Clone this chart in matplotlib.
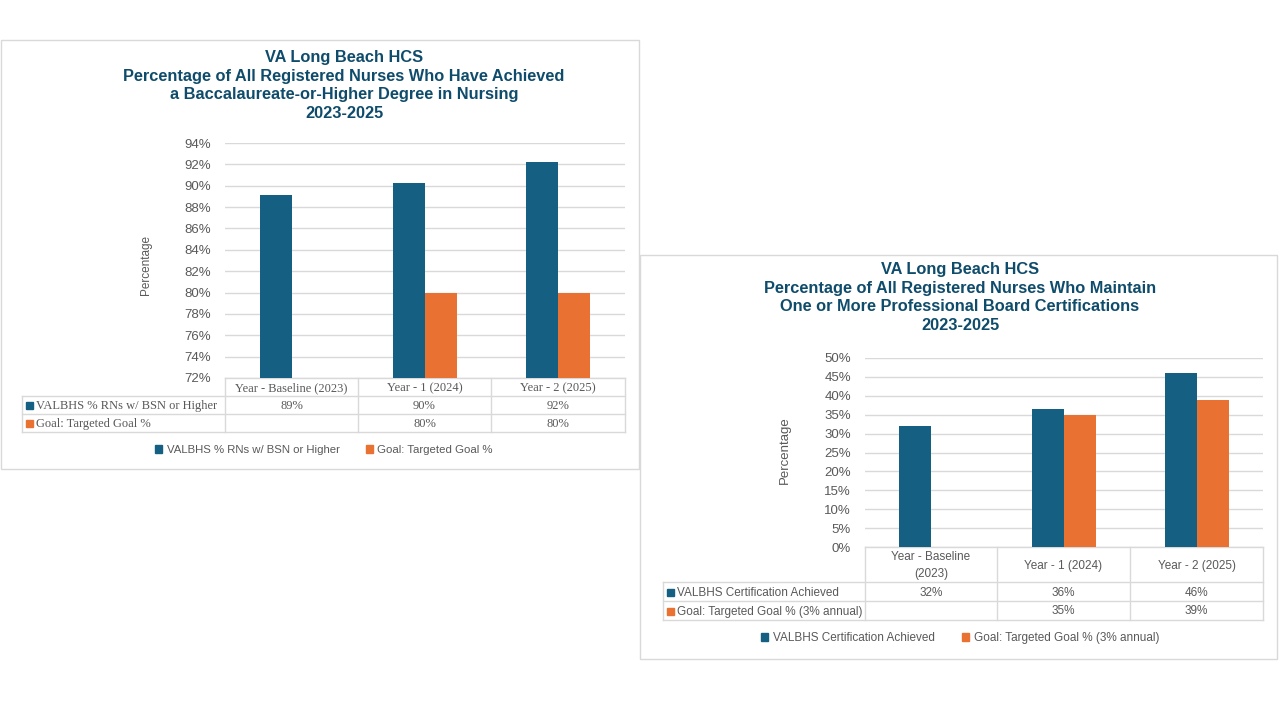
#!/usr/bin/env python3
"""Two VA Long Beach HCS nursing charts (BSN share and board certification)."""
import numpy as np
import matplotlib.pyplot as plt
from matplotlib.patches import Rectangle

W, H = 1280, 720
BLUE = "#156082"
ORANGE = "#E97132"
TITLE_C = "#0F4C6B"
GRID_C = "#D9D9D9"
TEXT_C = "#595959"

# --- left chart: BSN-or-higher ---
bsn_title = ("VA Long Beach HCS\n"
             "Percentage of All Registered Nurses Who Have Achieved\n"
             "a Baccalaureate-or-Higher Degree in Nursing\n"
             "2023-2025")
bsn_categories = ["Year - Baseline (2023)", "Year - 1 (2024)", "Year - 2 (2025)"]
bsn_names = ["VALBHS % RNs w/ BSN or Higher", "Goal: Targeted Goal %"]
bsn_actual = [89.1, 90.3, 92.2]
bsn_goal = [np.nan, 80.0, 80.0]
bsn_yticks = [72, 74, 76, 78, 80, 82, 84, 86, 88, 90, 92, 94]

# --- right chart: board certifications ---
cert_title = ("VA Long Beach HCS\n"
              "Percentage of All Registered Nurses Who Maintain\n"
              "One or More Professional Board Certifications\n"
              "2023-2025")
cert_categories = ["Year - Baseline\n(2023)", "Year - 1 (2024)", "Year - 2 (2025)"]
cert_names = ["VALBHS Certification Achieved", "Goal: Targeted Goal % (3% annual)"]
cert_actual = [32.0, 36.4, 46.0]
cert_goal = [np.nan, 35.0, 39.0]
cert_yticks = [0, 5, 10, 15, 20, 25, 30, 35, 40, 45, 50]


def px_axes(fig, x0, y0, x1, y1):
    return fig.add_axes([x0 / W, 1 - y1 / H, (x1 - x0) / W, (y1 - y0) / H])


def bar_panel(ax, actual, goal, yticks):
    x = np.arange(len(actual))
    w = 0.24
    ax.bar(x - w / 2, actual, w, color=BLUE, zorder=3)
    ax.bar(x + w / 2, goal, w, color=ORANGE, zorder=3)
    ax.set_xlim(-0.5, len(actual) - 0.5)
    ax.set_ylim(yticks[0], yticks[-1])
    ax.set_yticks(yticks)
    ax.set_yticklabels([f"{t}%" for t in yticks], family="Liberation Sans")
    ax.set_xticks([])
    ax.grid(axis="y", color=GRID_C, lw=1)
    ax.set_axisbelow(True)
    for s in ax.spines.values():
        s.set_visible(False)
    ax.tick_params(length=0, colors=TEXT_C, labelsize=9.5, pad=10)
    ax.patch.set_alpha(0)


def fmt(v):
    return "" if np.isnan(v) else f"{round(v)}%"


def data_table(ov, cols, rows, cats, names, series, family, size):
    # header row only spans the category columns
    for xe in cols[1:]:
        ov.plot([xe, xe], [rows[0], rows[-1]], color=GRID_C, lw=1)
    ov.plot([cols[0], cols[0]], [rows[1], rows[-1]], color=GRID_C, lw=1)
    ov.plot([cols[1], cols[-1]], [rows[0], rows[0]], color=GRID_C, lw=1)
    for ye in rows[1:]:
        ov.plot([cols[0], cols[-1]], [ye, ye], color=GRID_C, lw=1)
    for i, c in enumerate(cats):
        xc = (cols[i + 1] + cols[i + 2]) / 2
        ov.text(xc, (rows[0] + rows[1]) / 2 + 1, c, ha="center", va="center",
                family=family, fontsize=size, color=TEXT_C, linespacing=1.45)
    colors = [BLUE, ORANGE]
    for r, (name, vals) in enumerate(zip(names, series)):
        yc = (rows[r + 1] + rows[r + 2]) / 2 + 1
        ov.add_patch(Rectangle((cols[0] + 4, yc - 4), 7, 7, color=colors[r]))
        ov.text(cols[0] + 14, yc, name, ha="left", va="center",
                family=family, fontsize=size, color=TEXT_C)
        for i, v in enumerate(vals):
            xc = (cols[i + 1] + cols[i + 2]) / 2
            ov.text(xc, yc, fmt(v), ha="center", va="center",
                    family=family, fontsize=size, color=TEXT_C)


fig = plt.figure(figsize=(12.8, 7.2), dpi=100)
ov = fig.add_axes([0, 0, 1, 1])
ov.set_xlim(0, W)
ov.set_ylim(H, 0)
ov.axis("off")

# panel frames
ov.add_patch(Rectangle((0.5, 40), 638.5, 429, fill=False, ec=GRID_C, lw=1))
ov.add_patch(Rectangle((640, 255), 637, 404, fill=False, ec=GRID_C, lw=1))

# titles
title_kw = dict(ha="center", va="top", fontsize=11.75, fontweight="bold",
                color=TITLE_C, family="Liberation Sans", linespacing=1.3)
ov.text(344, 50, bsn_title, **title_kw)
ov.text(960, 262, cert_title, **title_kw)

# y labels
ov.text(146, 265, "Percentage", rotation=90, ha="center", va="center",
        fontsize=8.5, color=TEXT_C, family="Liberation Sans")
ov.text(785, 450, "Percentage", rotation=90, ha="center", va="center",
        fontsize=9.5, color=TEXT_C, family="Liberation Sans")

ax1 = px_axes(fig, 225, 143, 625, 378)
bar_panel(ax1, bsn_actual, bsn_goal, bsn_yticks)
ax2 = px_axes(fig, 865, 358, 1263, 547)
bar_panel(ax2, cert_actual, cert_goal, cert_yticks)

data_table(ov, [22, 225, 358, 491, 625], [378, 396, 414, 432],
           bsn_categories, bsn_names, [bsn_actual, bsn_goal],
           "Liberation Serif", 9)
data_table(ov, [663, 865, 997, 1130, 1263], [547, 582, 601, 620],
           cert_categories, cert_names, [cert_actual, cert_goal],
           "Liberation Sans", 8.5)

# legends
for xc, yc, names, size in [(324, 450, bsn_names, 8.2), (960, 638, cert_names, 8.5)]:
    handles = [Rectangle((0, 0), 1, 1, color=c) for c in (BLUE, ORANGE)]
    fig.legend(handles, names, loc="center", bbox_to_anchor=(xc / W, 1 - yc / H),
               ncol=2, frameon=False, handlelength=0.6, handleheight=0.6,
               handletextpad=0.4, columnspacing=2.3,
               prop={"family": "Liberation Sans", "size": size}, labelcolor=TEXT_C)

fig.savefig("out.png", dpi=100, facecolor="white")
